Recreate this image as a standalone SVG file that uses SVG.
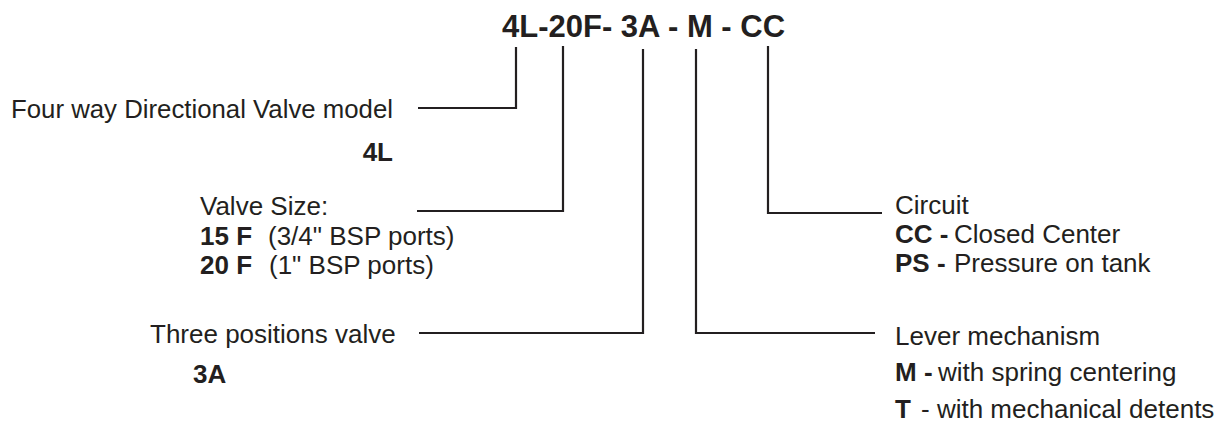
<svg xmlns="http://www.w3.org/2000/svg" width="1230" height="428" viewBox="0 0 1230 428">
<style>
text{font-family:"Liberation Sans",Arial,sans-serif;font-size:26px;fill:#231f20}
.b{font-weight:bold}
.t{font-size:31px;font-weight:bold}
.c{fill:none;stroke:#231f20;stroke-width:2.2}
</style>
<rect width="1230" height="428" fill="#fff"/>
<g id="title"><text class="t" x="502" y="37">4L-20F- 3A - M - CC</text></g>
<g id="connectors">
<polyline class="c" points="516,47 516,108 418,108"/>
<polyline class="c" points="563,46 563,211 417,211"/>
<polyline class="c" points="643,49 643,333 419,333"/>
<polyline class="c" points="696,49 696,333 875,333"/>
<polyline class="c" points="768,46 768,213 882,213"/>
</g>
<g id="model">
<text x="11" y="118" textLength="382" lengthAdjust="spacingAndGlyphs">Four way Directional Valve model</text>
<text class="b" x="393" y="161" text-anchor="end">4L</text>
</g>
<g id="size">
<text x="200" y="215">Valve Size:</text>
<text x="200" y="245"><tspan class="b">15 F</tspan><tspan x="268">(3/4" BSP ports)</tspan></text>
<text x="200" y="274"><tspan class="b">20 F</tspan><tspan x="269">(1" BSP ports)</tspan></text>
</g>
<g id="positions">
<text x="150" y="343">Three positions valve</text>
<text class="b" x="193" y="383">3A</text>
</g>
<g id="circuit">
<text x="895" y="214">Circuit</text>
<text x="895" y="243"><tspan class="b">CC -</tspan><tspan x="954">Closed Center</tspan></text>
<text x="895" y="272"><tspan class="b">PS -</tspan><tspan x="954">Pressure on tank</tspan></text>
</g>
<g id="lever">
<text x="895" y="345">Lever mechanism</text>
<text x="895" y="381"><tspan class="b">M -</tspan><tspan x="938">with spring centering</tspan></text>
<text x="895" y="418"><tspan class="b">T</tspan><tspan x="921">- with mechanical detents</tspan></text>
</g>
</svg>
